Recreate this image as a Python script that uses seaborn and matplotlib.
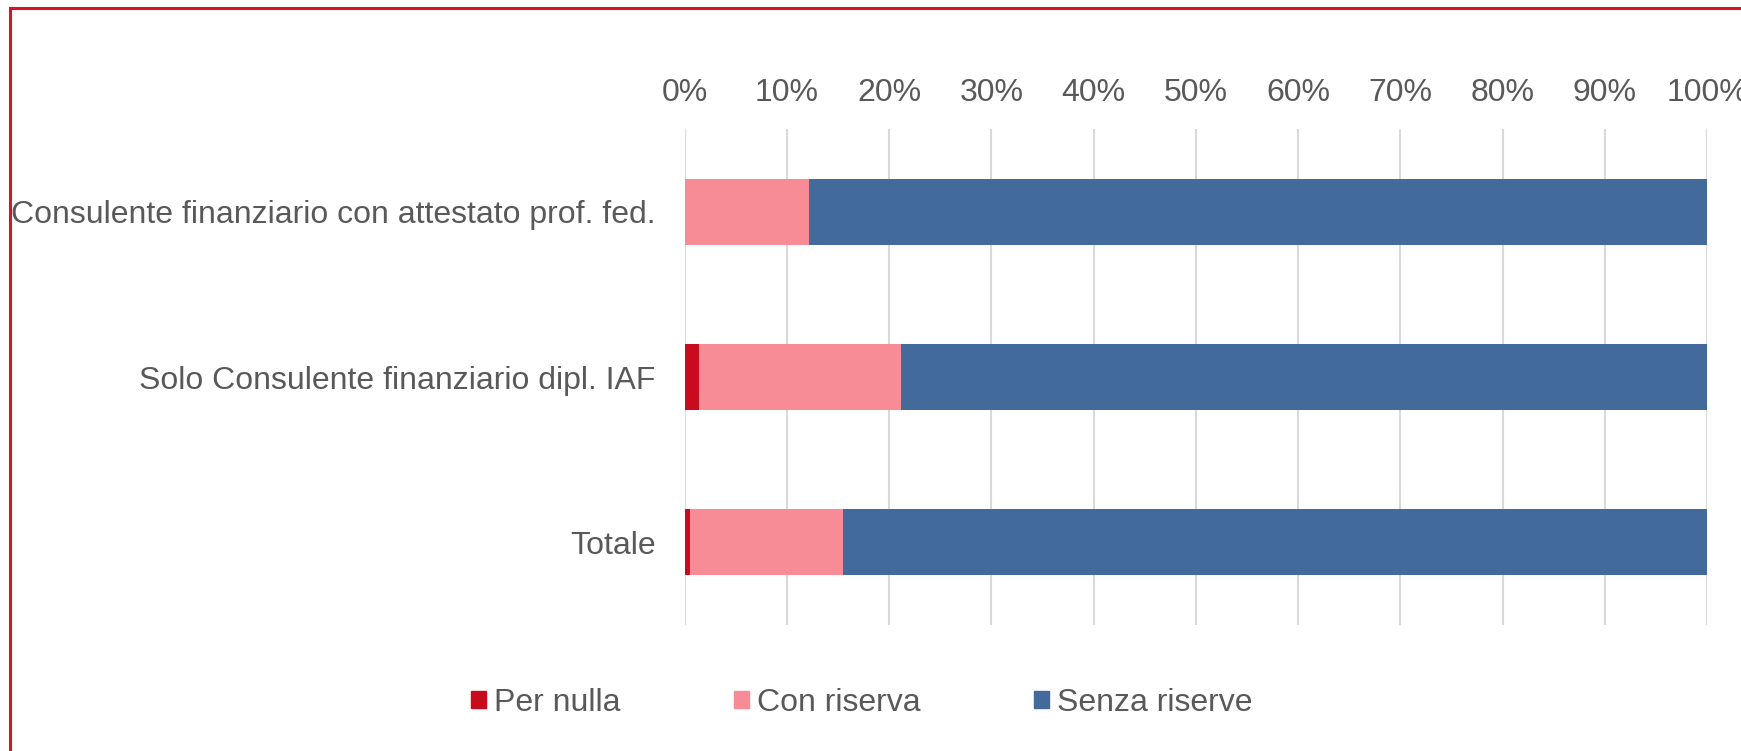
import seaborn as sns
import matplotlib.pyplot as plt
import matplotlib.patches as mpatches
from matplotlib.ticker import PercentFormatter
import pandas as pd

# dati (percentuali)
categories = ["Consulente finanziario con attestato prof. fed.",
              "Solo Consulente finanziario dipl. IAF",
              "Totale"]
series = ["Per nulla", "Con riserva", "Senza riserve"]
per_nulla = [0.0, 1.4, 0.5]
con_riserva = [12.2, 19.8, 15.0]
senza_riserve = [87.8, 78.8, 84.5]

colors = ["#C80C1E", "#F78C96", "#426A9B"]
text_col = "#595959"

df = pd.DataFrame({"Categoria": categories,
                   "Per nulla": per_nulla,
                   "Con riserva": con_riserva,
                   "Senza riserve": senza_riserve})
# somme cumulate per impilare le barre
df["c1"] = df["Per nulla"]
df["c2"] = df["c1"] + df["Con riserva"]
df["c3"] = df["c2"] + df["Senza riserve"]

sns.set_style("white")
plt.rcParams["font.family"] = ["Liberation Sans", "DejaVu Sans"]

fig = plt.figure(figsize=(17.41, 7.51), dpi=100)
ax = fig.add_axes([0.3932, 0.1678, 0.5873, 0.6604])

# disegno dal totale verso il primo segmento
for col, c in zip(["c3", "c2", "c1"], colors[::-1]):
    sns.barplot(data=df, x=col, y="Categoria", color=c, width=0.4,
                orient="h", ax=ax, saturation=1, linewidth=0, zorder=3)

ax.set_xlim(0, 100)
ax.set_ylim(2.5, -0.5)
ax.set_xticks(range(0, 101, 10))
ax.xaxis.set_major_formatter(PercentFormatter(decimals=0))
ax.xaxis.tick_top()
ax.grid(axis="x", color="#D9D9D9", linewidth=1.5, zorder=0)
ax.set_axisbelow(True)
for s in ax.spines.values():
    s.set_visible(False)
ax.tick_params(axis="x", length=0, pad=15, labelsize=23, labelcolor=text_col)
ax.tick_params(axis="y", length=0, pad=21, labelsize=23, labelcolor=text_col)
ax.set_xlabel("")
ax.set_ylabel("")

handles = [mpatches.Patch(color=c, label=s) for c, s in zip(colors, series)]
fig.legend(handles=handles, loc="center", bbox_to_anchor=(0.495, 0.064),
           ncol=3, frameon=False, fontsize=23, labelcolor=text_col,
           handlelength=0.47, handleheight=0.47, handletextpad=0.25,
           columnspacing=3.55)

# cornice rossa
fig.patches.append(mpatches.Rectangle((10 / 1741, -0.1), 1.2, 1.1 - 8 / 751,
                                      transform=fig.transFigure, fill=False,
                                      edgecolor="#D6132B", linewidth=2.2))

fig.savefig("out.png", dpi=100)
